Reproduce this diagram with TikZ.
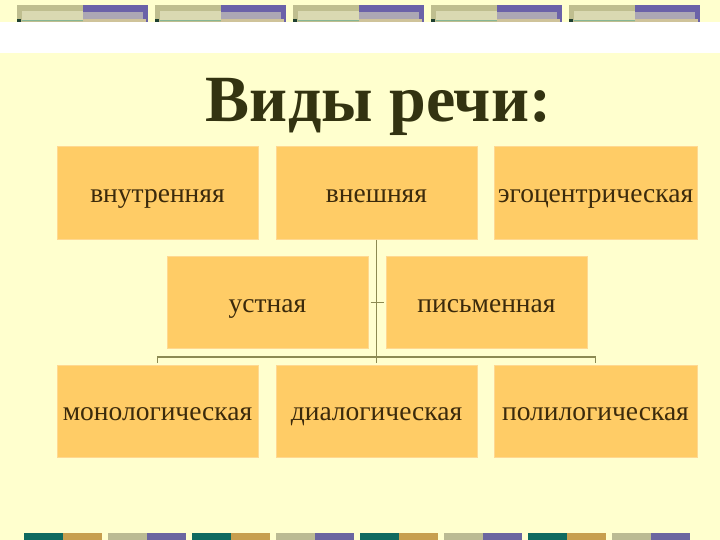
\documentclass[tikz,border=0pt]{standalone}
\usepackage{fontspec}
\setmainfont{Liberation Serif}
\newfontfamily\boxfont{Liberation Serif}
\definecolor{bgc}{HTML}{FFFFCE}
\definecolor{boxc}{HTML}{FFCC66}
\definecolor{boxe}{HTML}{FFD890}
\definecolor{txtc}{HTML}{3B2A0C}
\definecolor{titc}{HTML}{333311}
\definecolor{linec}{HTML}{8C8A52}
\definecolor{khk}{HTML}{BFBE8F}
\definecolor{khkl}{HTML}{DAD9B2}
\definecolor{grl}{HTML}{86B694}
\definecolor{dkg}{HTML}{1E3F30}
\definecolor{pur}{HTML}{6B62A8}
\definecolor{purl}{HTML}{ACA7B4}
\definecolor{tanl}{HTML}{CFC39A}
\definecolor{teal}{HTML}{0F6A5F}
\definecolor{gold}{HTML}{C79F4E}
\definecolor{khb}{HTML}{BBBB93}
\definecolor{purb}{HTML}{6B66A0}
\tikzset{
  kbox/.style={fill=boxc, draw=boxe, line width=1pt, minimum width=201pt, minimum height=92pt,
    inner sep=0pt, text=txtc, text height=25pt, text depth=6pt,
    font=\boxfont\fontsize{27.5}{30}\selectfont},
  conn/.style={draw=linec, line width=1.6pt}
}
\begin{document}
\begin{tikzpicture}[x=1pt,y=-1pt]
\fill[bgc] (0,0) rectangle (720,540);
\useasboundingbox (0,0) rectangle (720,540);
% white band
\fill[white] (0,22) rectangle (720,53);
% top stripes
\foreach \s in {17,155,293,431,569}{
  \fill[khk] (\s,5) rectangle (\s+66,22);
  \fill[khkl] (\s+5,11) rectangle (\s+66,20);
  \fill[grl] (\s+5,20) rectangle (\s+66,21.5);
  \fill[dkg] (\s,19.5) rectangle (\s+4,22);
  \fill[pur] (\s+66,5) rectangle (\s+131,22);
  \fill[purl] (\s+66,12) rectangle (\s+126,19);
  \fill[tanl] (\s+66,19) rectangle (\s+129,22);
}
% bottom stripes
\foreach \k in {0,2,4,6}{
  \fill[teal] (24+84*\k,533) rectangle (63+84*\k,540);
  \fill[gold] (63+84*\k,533) rectangle (102+84*\k,540);
  \fill[khb] (108+84*\k,533) rectangle (147+84*\k,540);
  \fill[purb] (147+84*\k,533) rectangle (186+84*\k,540);
}
% title
\node[text=titc, font=\boxfont\fontsize{66}{72}\selectfont\bfseries, anchor=base] (title) at (378.5,122) {Виды речи:};
% boxes
\node[kbox] (vn) at (157.5,193) {внутренняя};
\node[kbox] (ve) at (376.5,193) {внешняя};
\node[kbox, minimum width=203pt] (eg) at (595.5,193) {эгоцентрическая};
\node[kbox] (us) at (267.5,302.5) {устная};
\node[kbox] (pi) at (486.5,302.5) {письменная};
\node[kbox] (mo) at (157.5,411) {монологическая};
\node[kbox] (di) at (376.5,411) {диалогическая};
\node[kbox, minimum width=203pt] (po) at (595.5,411) {полилогическая};
% connectors
\draw[conn, shorten >=2pt] (ve.south) -- (di.north);
\draw[conn, shorten <=2pt, shorten >=2pt] (us.east) -- (pi.west);
\coordinate (tl) at (mo.north |- 0,363);
\coordinate (bl) at (mo.north |- 0,357);
\coordinate (br) at (po.north |- 0,357);
\coordinate (tr) at (po.north |- 0,363);
\draw[conn] (tl) -- (bl) -- (br) -- (tr);
\end{tikzpicture}
\end{document}
